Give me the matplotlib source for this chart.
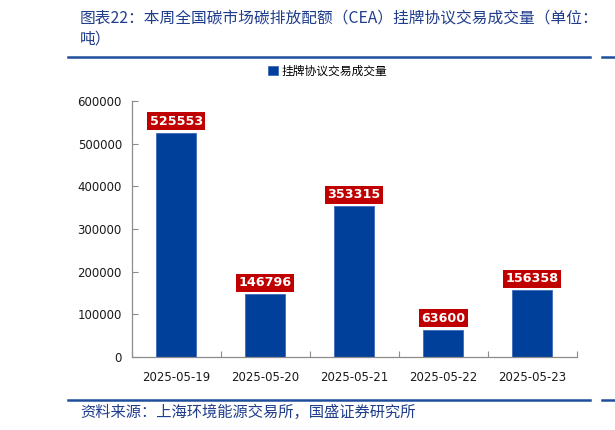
import matplotlib
matplotlib.use("Agg")
import matplotlib.pyplot as plt
from matplotlib.lines import Line2D

plt.rcParams['font.family'] = ['Noto Sans CJK SC', 'DejaVu Sans']

dates = ["2025-05-19", "2025-05-20", "2025-05-21", "2025-05-22", "2025-05-23"]
volumes = [525553, 146796, 353315, 63600, 156358]
yticks = [0, 100000, 200000, 300000, 400000, 500000, 600000]
series_name = "挂牌协议交易成交量"
title_l1 = "图表22：本周全国碳市场碳排放配额（CEA）挂牌协议交易成交量（单位："
title_l2 = "吨）"
source = "资料来源：上海环境能源交易所，国盛证券研究所"

bar_color = "#00409A"
label_color = "#C00000"
title_color = "#1F3D8C"
axis_color = "#8C8C8C"

fig = plt.figure(figsize=(6.15, 4.3), dpi=100)
ax = fig.add_axes([0.214, 0.170, 0.724, 0.595])

x = list(range(len(dates)))
ax.bar(x, volumes, width=0.45, color=bar_color, edgecolor="#3C6AB8",
       linewidth=0.6, label=series_name, zorder=2)
for xi, v in zip(x, volumes):
    ax.annotate(f"{v}", (xi, v), xytext=(0, 3.5), textcoords="offset points",
                ha="center", va="bottom", color="white", fontsize=9.2,
                fontweight="bold", family=['DejaVu Sans'],
                bbox=dict(boxstyle="square,pad=0.2", fc=label_color, ec="none"))

ax.set_xlim(-0.5, len(dates) - 0.5)
ax.set_ylim(0, 600000)
ax.set_yticks(yticks)
ax.set_yticklabels([str(t) for t in yticks], fontsize=8.5, family=['DejaVu Sans'],
                   color="#1A1A1A")
ax.set_xticks([i - 0.5 for i in range(len(dates) + 1)])
ax.set_xticklabels([])
ax.set_xticks(x, minor=True)
ax.set_xticklabels(dates, minor=True, fontsize=8.5, family=['DejaVu Sans'],
                   color="#1A1A1A")
for s in ["top", "right"]:
    ax.spines[s].set_visible(False)
for s in ["left", "bottom"]:
    ax.spines[s].set_color(axis_color)
    ax.spines[s].set_linewidth(0.9)
ax.tick_params(axis="y", direction="in", length=4, color=axis_color, pad=7)
ax.tick_params(axis="x", which="major", direction="in", length=4, color=axis_color)
ax.tick_params(axis="x", which="minor", length=0, pad=10)

ax.legend(loc="lower center", bbox_to_anchor=(0.44, 1.05), frameon=False,
          fontsize=8.5, handlelength=0.8, handleheight=0.8, handletextpad=0.3)

# title
fig.text(80/615, 1-18/430, title_l1, fontsize=11.3, color=title_color,
         ha="left", va="center", style="italic")
fig.text(80/615, 1-39/430, title_l2, fontsize=11.3, color=title_color,
         ha="left", va="center", style="italic")
# lines
for yy in [57, 400]:
    fig.add_artist(Line2D([68/615, 590/615], [1-yy/430, 1-yy/430], color="#1F4E9C", lw=1.8))
    fig.add_artist(Line2D([602/615, 1.0], [1-yy/430, 1-yy/430], color="#1F4E9C", lw=1.8))
fig.text(80/615, 1-412/430, source, fontsize=11, color=title_color,
         ha="left", va="center", style="italic")

fig.savefig("out.png", dpi=100)
